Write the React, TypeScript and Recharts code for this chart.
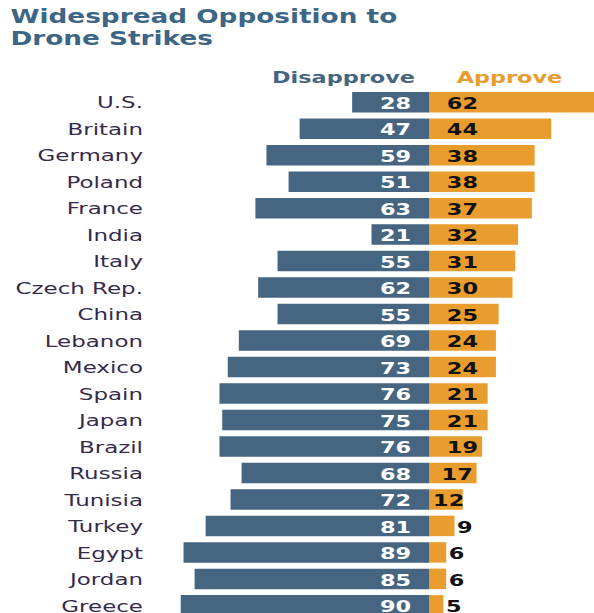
import React from "react";
import { BarChart, Bar, XAxis, YAxis, LabelList } from "recharts";

const countries = [
  "U.S.", "Britain", "Germany", "Poland", "France", "India", "Italy",
  "Czech Rep.", "China", "Lebanon", "Mexico", "Spain", "Japan", "Brazil",
  "Russia", "Tunisia", "Turkey", "Egypt", "Jordan", "Greece",
];
const disapprove = [28, 47, 59, 51, 63, 21, 55, 62, 55, 69, 73, 76, 75, 76, 68, 72, 81, 89, 85, 90];
const approve = [62, 44, 38, 38, 37, 32, 31, 30, 25, 24, 24, 21, 21, 19, 17, 12, 9, 6, 6, 5];

const data = countries.map((country, i) => ({
  country,
  disapprove: disapprove[i],
  disapproveNeg: -disapprove[i],
  approve: approve[i],
}));

// the reference is stretched sideways, so draw narrow and scale the whole thing
const SX = 1.4;
const BLUE = "#456581";
const ORANGE = "#E99D2E";
const FONT = "DejaVu Sans, Verdana, sans-serif";

function box(props: any) {
  const vb = props.viewBox || props;
  const x = Number(vb.x ?? props.x);
  const y = Number(vb.y ?? props.y);
  const w = Number(vb.width ?? props.width);
  const h = Number(vb.height ?? props.height);
  return { left: Math.min(x, x + w), right: Math.max(x, x + w), cy: y + h / 2 };
}

const DisLabel = (props: any) => {
  const { right, cy } = box(props);
  return (
    <text x={right - 18.4 / SX} y={cy + 6.8} textAnchor="end" fill="#fff"
      fontFamily={FONT} fontWeight="bold" fontSize={16}>
      {props.value}
    </text>
  );
};

const AppLabel = (props: any) => {
  const { left, right, cy } = box(props);
  const v = Number(props.value);
  const w = 30 / SX;
  const tx = v < 10
    ? right + 2.5 / SX
    : Math.max(left + 3.5 / SX, Math.min(left + 17.3 / SX, right - 5 / SX - w));
  return (
    <text x={tx} y={cy + 6.8} textAnchor="start" fill="#111"
      fontFamily={FONT} fontWeight="bold" fontSize={16}>
      {v}
    </text>
  );
};

const CountryTick = (props: any) => {
  const { y, payload } = props;
  return (
    <text x={143 / SX} y={y + 6.2} textAnchor="end" fill="#352a4c"
      fontFamily={FONT} fontSize={16.4}>
      {payload.value}
    </text>
  );
};

export default function App() {
  return (
    <div style={{ position: "absolute", left: 0, top: 0, width: 594, height: 613, overflow: "hidden", background: "#fff" }}>
      <div style={{ position: "relative", width: 601 / SX, height: 619, transform: `scaleX(${SX})`, transformOrigin: "0 0" }}>
        <BarChart
          width={601 / SX}
          height={618.6}
          data={data}
          layout="vertical"
          stackOffset="sign"
          margin={{ top: 88.96, right: 0, bottom: 0, left: 0 }}
        >
          <XAxis type="number" domain={[-108, 62]} hide />
          <YAxis type="category" dataKey="country" width={131 / SX}
            axisLine={false} tickLine={false} tick={<CountryTick />} interval={0} />
          <Bar dataKey="disapproveNeg" stackId="a" fill={BLUE} barSize={20.5} isAnimationActive={false}>
            <LabelList dataKey="disapprove" content={<DisLabel />} />
          </Bar>
          <Bar dataKey="approve" stackId="a" fill={ORANGE} barSize={20.5} isAnimationActive={false}>
            <LabelList dataKey="approve" content={<AppLabel />} />
          </Bar>
        </BarChart>
        <svg width={601 / SX} height={90} style={{ position: "absolute", left: 0, top: 0, pointerEvents: "none" }}>
          <text x={10.5 / SX} y={23.3} fill="#3d6585" fontFamily={FONT} fontWeight="bold" fontSize={18.8}>
            Widespread Opposition to
          </text>
          <text x={10.5 / SX} y={45} fill="#3d6585" fontFamily={FONT} fontWeight="bold" fontSize={18.8}>
            Drone Strikes
          </text>
          <text x={415 / SX} y={82.7} textAnchor="end" fill={BLUE} fontFamily={FONT} fontWeight="bold" fontSize={16}>
            Disapprove
          </text>
          <text x={456.7 / SX} y={82.7} textAnchor="start" fill={ORANGE} fontFamily={FONT} fontWeight="bold" fontSize={16}>
            Approve
          </text>
        </svg>
      </div>
    </div>
  );
}
